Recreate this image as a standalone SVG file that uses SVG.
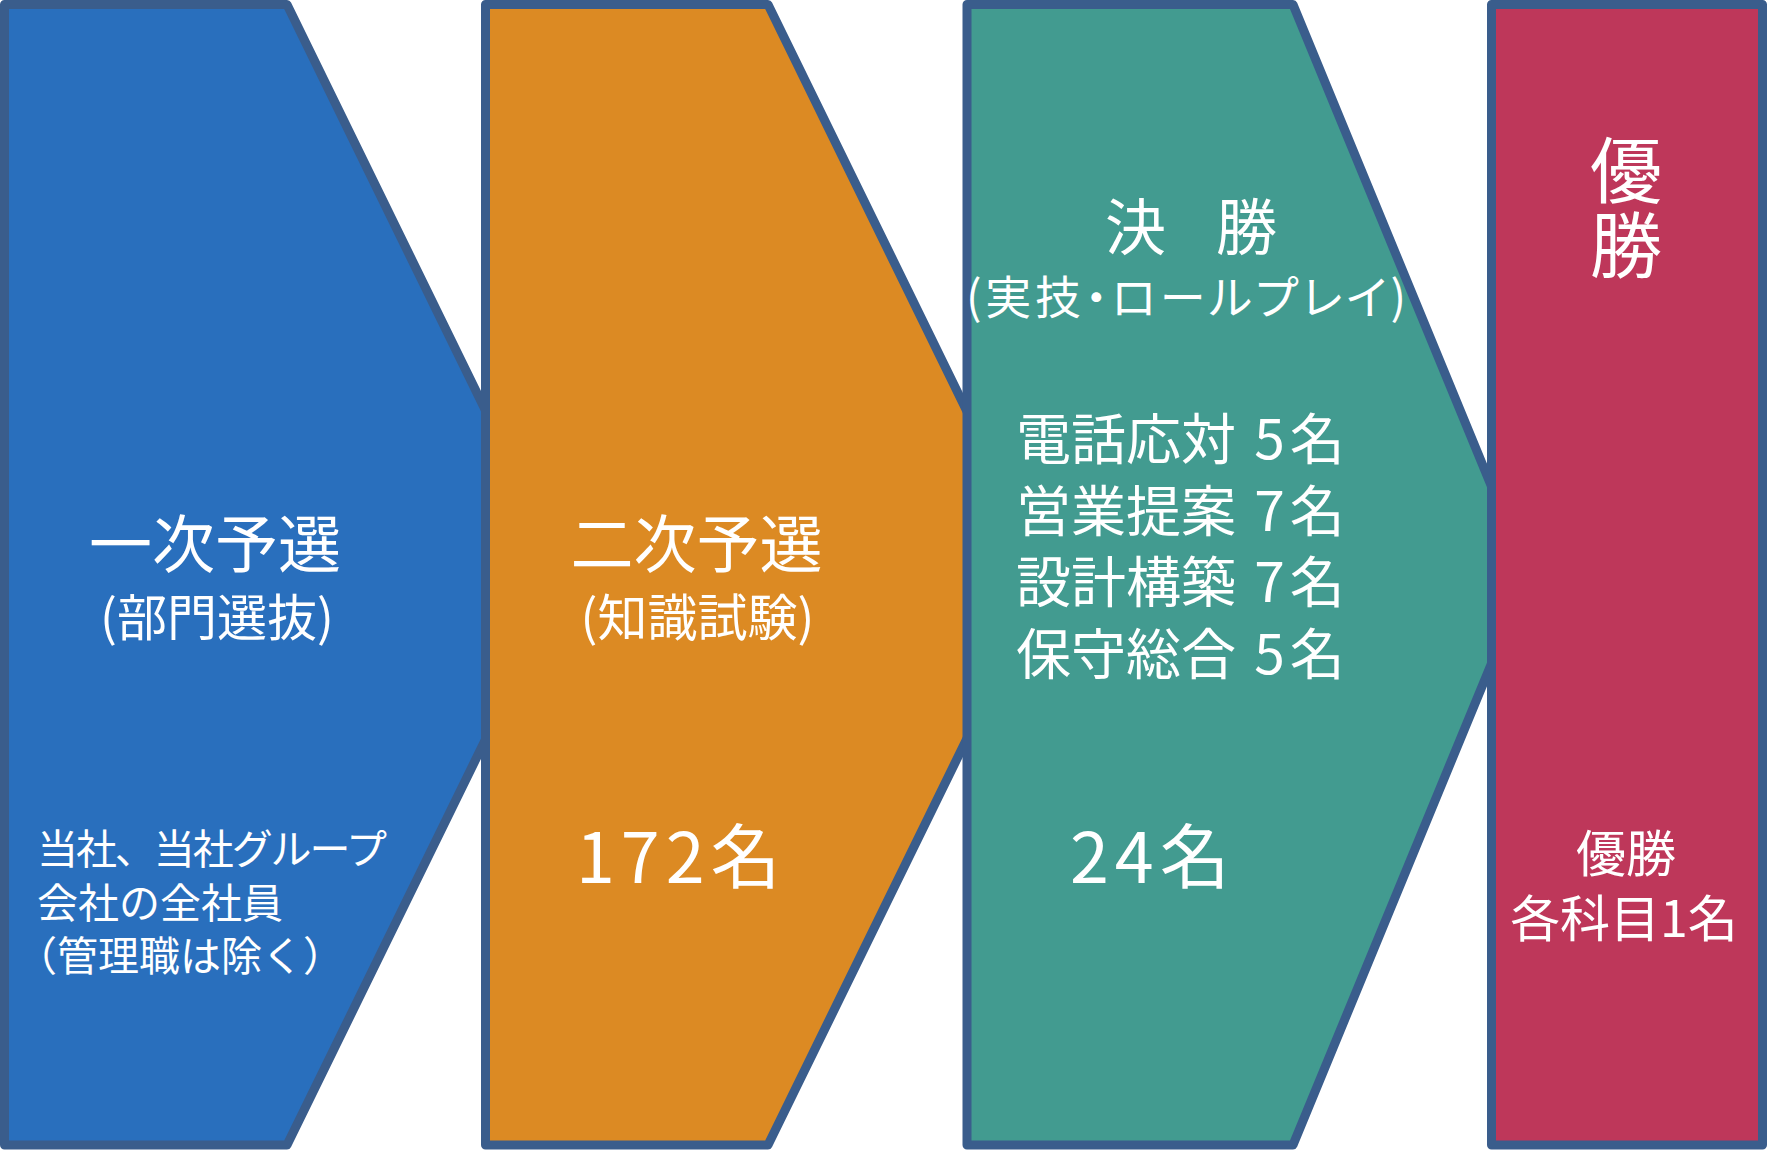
<svg xmlns="http://www.w3.org/2000/svg" width="1788" height="1150" viewBox="0 0 1788 1150">
<style>
.shape{stroke:#3A5D8C;stroke-width:9;stroke-linejoin:round}
.t{fill:#FFFFFF;font-family:"Noto Sans CJK JP","Noto Sans",sans-serif}
.m{text-anchor:middle}
.p{font-feature-settings:"palt"}
</style>
<rect x="0" y="0" width="1788" height="1150" fill="#FFFFFF"/>
<g id="stage1">
<polygon class="shape" fill="#296FBD" points="4.5,4.5 287,4.5 566,575 287,1145 4.5,1145"/>
<text class="t m" x="215" y="567" font-size="63">一次予選</text>
<text class="t m" x="217" y="636" font-size="50">(部門選抜)</text>
<text class="t" x="37" y="864" font-size="41" textLength="350" lengthAdjust="spacing">当社、当社グループ</text>
<text class="t" x="37" y="918" font-size="41">会社の全社員</text>
<text class="t" x="16" y="971" font-size="41">（管理職は除く）</text>
</g>
<g id="stage2">
<polygon class="shape" fill="#DC8A23" points="485.5,4.5 768,4.5 1047,575 768,1145 485.5,1145"/>
<text class="t m" x="696.5" y="567" font-size="63">二次予選</text>
<text class="t m" x="697.5" y="636" font-size="50">(知識試験)</text>
<text class="t" x="576" y="883" font-size="70" letter-spacing="6">172名</text>
</g>
<g id="stage3">
<polygon class="shape" fill="#429B90" points="967,4.5 1293,4.5 1528,575 1293,1145 967,1145"/>
<text class="t" x="1105" y="250" font-size="61" textLength="172" lengthAdjust="spacing">決 勝</text>
<text class="t p" x="966" y="314" font-size="46" textLength="440" lengthAdjust="spacing">(実技・ロールプレイ)</text>
<text class="t" x="1016" y="459" font-size="55">電話応対 <tspan dx="6">5</tspan><tspan dx="5">名</tspan></text>
<text class="t" x="1016" y="530.5" font-size="55">営業提案 <tspan dx="6">7</tspan><tspan dx="5">名</tspan></text>
<text class="t" x="1016" y="602" font-size="55">設計構築 <tspan dx="6">7</tspan><tspan dx="5">名</tspan></text>
<text class="t" x="1016" y="673.5" font-size="55">保守総合 <tspan dx="6">5</tspan><tspan dx="5">名</tspan></text>
<text class="t" x="1070" y="883" font-size="70" letter-spacing="6">24名</text>
</g>
<g id="winner">
<rect class="shape" fill="#BE375A" x="1491.5" y="4.5" width="271" height="1140.5"/>
<text class="t m" x="1626" y="197" font-size="72">優</text>
<text class="t m" x="1626" y="272" font-size="72">勝</text>
<text class="t m" x="1626" y="872" font-size="50">優勝</text>
<text class="t m" x="1624" y="937" font-size="50">各科目1名</text>
</g>
</svg>
